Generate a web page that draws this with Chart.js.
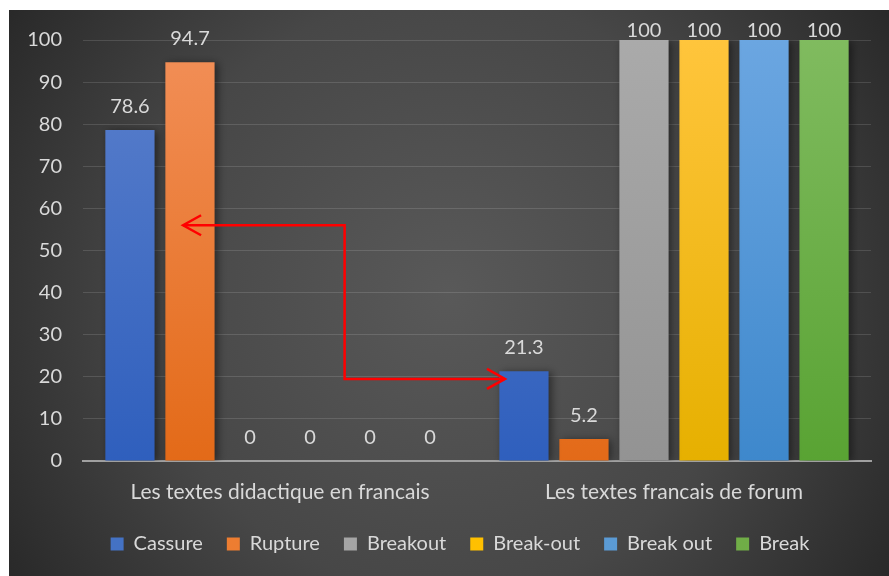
<!DOCTYPE html>
<html>
<head>
<meta charset="utf-8">
<script src="https://cdn.jsdelivr.net/npm/chart.js@4.4.0/dist/chart.umd.min.js"></script>
<style>
  html, body { margin: 0; padding: 0; background: #fff; overflow: hidden; }
  #wrap { position: absolute; left: 9px; top: 10px; width: 880px; height: 566px; }
</style>
</head>
<body>
<div id="wrap"><canvas id="chart"></canvas></div>
<script>
// data
const categories = ["Les textes didactique en francais", "Les textes francais de forum"];
const seriesNames = ["Cassure", "Rupture", "Breakout", "Break-out", "Break out", "Break"];
const cassure = [78.6, 21.3];
const rupture = [94.7, 5.2];
const breakout = [0, 100];
const breakOutDash = [0, 100];
const breakOutSpace = [0, 100];
const breakOnly = [0, 100];
const yTicks = [0, 10, 20, 30, 40, 50, 60, 70, 80, 90, 100];

// gradient colours, top -> bottom
const topColors = ["#5b80cc", "#f28f58", "#aaaaaa", "#ffc53c", "#6ba6e1", "#80bb5f"];
const bottomColors = ["#2f5fbd", "#e36a18", "#939393", "#e6b000", "#3e88cc", "#59a333"];
const legendColors = ["#4472c4", "#ed7d31", "#a5a5a5", "#ffc000", "#5b9bd5", "#70ad47"];

// red arrow annotation: y levels (value units) and x positions (category units)
const arrowLevels = [56, 19.5];
const arrowCats = [-0.246, 0.164, 0.571];

const textColor = "#d9d9d9";
const fontFamily = "Lato, 'Open Sans', sans-serif";

function barGradient(i) {
  return function (ctx) {
    const chart = ctx.chart;
    const area = chart.chartArea;
    if (!area) return topColors[i];
    const g = chart.ctx.createLinearGradient(0, area.top, 0, area.bottom);
    g.addColorStop(0, topColors[i]);
    g.addColorStop(1, bottomColors[i]);
    return g;
  };
}

const allValues = [cassure, rupture, breakout, breakOutDash, breakOutSpace, breakOnly];

const datasets = seriesNames.map((name, i) => ({
  label: name,
  data: allValues[i],
  backgroundColor: barGradient(i),
  borderWidth: 0,
  categoryPercentage: 0.914,
  barPercentage: 0.82
}));

const backgroundPlugin = {
  id: "bg",
  beforeDraw(chart) {
    const { ctx, width, height } = chart;
    ctx.save();
    const g = ctx.createRadialGradient(width * 0.5, height * 0.5, 0, width * 0.5, height * 0.5, width * 0.62);
    g.addColorStop(0, "#595959");
    g.addColorStop(0.55, "#474747");
    g.addColorStop(1, "#262626");
    ctx.fillStyle = g;
    ctx.fillRect(0, 0, width, height);
    ctx.restore();
  }
};

// nudge the legend to the right, where the original centres it
const legendShift = {
  id: "legendShift",
  afterLayout(chart) {
    if (chart.legend) {
      chart.legend.left += 20;
      chart.legend.right += 20;
    }
  }
};

const shadowPlugin = {
  id: "barShadow",
  beforeDatasetDraw(chart) {
    const ctx = chart.ctx;
    ctx.save();
    ctx.shadowColor = "rgba(0,0,0,0.45)";
    ctx.shadowBlur = 8;
    ctx.shadowOffsetX = 3;
    ctx.shadowOffsetY = 1;
  },
  afterDatasetDraw(chart) {
    chart.ctx.restore();
  }
};

const labelPlugin = {
  id: "valueLabels",
  afterDatasetsDraw(chart) {
    const ctx = chart.ctx;
    ctx.save();
    ctx.fillStyle = textColor;
    ctx.font = "20px " + fontFamily;
    ctx.textAlign = "center";
    ctx.textBaseline = "alphabetic";
    chart.data.datasets.forEach((ds, di) => {
      const meta = chart.getDatasetMeta(di);
      meta.data.forEach((bar, j) => {
        const yy = Math.max(bar.y - 17, 27);
        ctx.fillText(String(ds.data[j]), bar.x, yy);
      });
    });
    ctx.restore();
  }
};

const arrowPlugin = {
  id: "arrow",
  afterDatasetsDraw(chart) {
    const x = chart.scales.x, y = chart.scales.y;
    const ctx = chart.ctx;
    const xl = x.getPixelForValue(arrowCats[0]);
    const xm = x.getPixelForValue(arrowCats[1]);
    const xr = x.getPixelForValue(arrowCats[2]);
    const y1 = y.getPixelForValue(arrowLevels[0]);
    const y2 = y.getPixelForValue(arrowLevels[1]);
    ctx.save();
    ctx.strokeStyle = "#ff0000";
    ctx.lineWidth = 2.5;
    ctx.beginPath();
    ctx.moveTo(xl, y1);
    ctx.lineTo(xm, y1);
    ctx.lineTo(xm, y2);
    ctx.lineTo(xr, y2);
    ctx.stroke();
    ctx.beginPath();
    ctx.moveTo(xl + 18, y1 - 10);
    ctx.lineTo(xl, y1);
    ctx.lineTo(xl + 18, y1 + 10);
    ctx.moveTo(xr - 18, y2 - 10);
    ctx.lineTo(xr, y2);
    ctx.lineTo(xr - 18, y2 + 10);
    ctx.stroke();
    ctx.restore();
  }
};

new Chart(document.getElementById("chart"), {
  type: "bar",
  data: { labels: categories, datasets: datasets },
  plugins: [backgroundPlugin, legendShift, shadowPlugin, labelPlugin, arrowPlugin],
  options: {
    responsive: true,
    maintainAspectRatio: false,
    animation: false,
    layout: { padding: { top: 30, left: 0, right: 18, bottom: 12 } },
    plugins: {
      tooltip: { enabled: false },
      legend: {
        position: "bottom",
        labels: {
          color: textColor,
          font: { size: 20, family: fontFamily },
          boxWidth: 13,
          boxHeight: 13,
          padding: 24,
          generateLabels(chart) {
            return Chart.defaults.plugins.legend.labels.generateLabels(chart).map((item, i) => {
              item.fillStyle = legendColors[i];
              item.strokeStyle = "rgba(0,0,0,0)";
              item.lineWidth = 0;
              return item;
            });
          }
        }
      }
    },
    scales: {
      x: {
        afterFit(scale) { scale.height = 49; },
        grid: { display: true, color: "rgba(0,0,0,0)", drawTicks: false },
        border: { display: true, color: "#a0a0a0", width: 2 },
        ticks: {
          color: textColor,
          font: { size: 21, family: fontFamily },
          padding: 19,
          maxRotation: 0
        }
      },
      y: {
        min: 0,
        max: 100,
        afterFit(scale) {
          scale.width = 74;
          scale.paddingTop = 0;
          scale.paddingBottom = 0;
        },
        afterBuildTicks(scale) { scale.ticks = yTicks.map(v => ({ value: v })); },
        grid: { color: "rgba(255,255,255,0.13)", lineWidth: 1, drawTicks: false },
        border: { display: false },
        ticks: {
          color: textColor,
          font: { size: 20, family: fontFamily },
          padding: 21
        }
      }
    }
  }
});
</script>
</body>
</html>
